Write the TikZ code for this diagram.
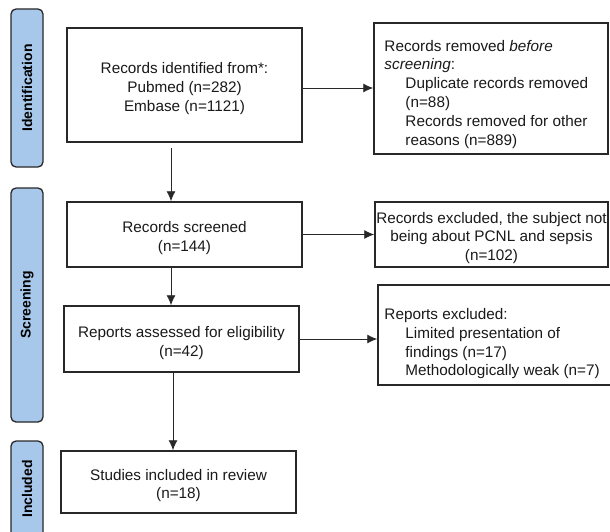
\documentclass[tikz,border=0pt]{standalone}
\usepackage{fontspec}
\setmainfont{Liberation Sans}
\usetikzlibrary{arrows.meta}
\definecolor{sidebl}{RGB}{167,199,235}
\definecolor{edgec}{RGB}{40,40,40}
\definecolor{txtc}{RGB}{25,25,25}
\begin{document}
\begin{tikzpicture}[x=1pt,y=-1pt,
  box/.style={draw=edgec,line width=1.5pt,inner sep=0pt},
  ctext/.style={anchor=center,inner sep=0pt,align=center,text=txtc,yshift=-3.5pt,
    font=\fontsize{15.3}{18.8}\selectfont},
  lefttext/.style={anchor=north west,inner sep=0pt,align=left,text=txtc,
    font=\fontsize{15.3}{18.8}\selectfont},
  side/.style={draw=edgec,line width=1.3pt,fill=sidebl,rounded corners=5pt,rotate=90,
    minimum height=32pt,inner sep=0pt,text=black,font=\fontsize{14}{16}\selectfont\bfseries},
  arr/.style={draw=edgec,line width=0.9pt,-{Latex[length=10pt,width=9pt]}}]
\useasboundingbox (0,0) rectangle (610,532);
\begin{scope}
\clip (0,0) rectangle (610,532);
% sidebars
\node[side,minimum width=158pt] (sI) at (27,88) {Identification};
\node[side,minimum width=234pt] (sS) at (27,305) {Screening};
\node[side,minimum width=96pt] (sN) at (27,489) {Included};
% main column
\node[box,minimum width=235pt,minimum height=114pt,
  label={[ctext]center:Records identified from*:\\Pubmed (n=282)\\Embase (n=1121)}]
  (B1) at (184.5,85) {};
\node[box,minimum width=235pt,minimum height=65pt,
  label={[ctext]center:Records screened\\(n=144)}] (B2) at (184.5,234.5) {};
\node[box,minimum width=235pt,minimum height=66pt,
  label={[ctext,yshift=-0.5pt]center:Reports assessed for eligibility\\(n=42)}]
  (B3) at (181.5,339) {};
\node[box,minimum width=235pt,minimum height=62pt,
  label={[ctext]center:Studies included in review\\(n=18)}] (B4) at (178.5,482) {};
% right column
\node[box,minimum width=234pt,minimum height=131pt,
  label={[lefttext,xshift=11pt,yshift=-17.5pt]north west:Records removed \textit{before}\\
  \textit{screening}:\\
  \hspace*{21pt}Duplicate records removed\\
  \hspace*{21pt}(n=88)\\
  \hspace*{21pt}Records removed for other\\
  \hspace*{21pt}reasons (n=889)}] (R1) at (491,88.5) {};
\node[box,minimum width=233pt,minimum height=65pt,
  label={[ctext]center:Records excluded, the subject not\\being about PCNL and sepsis\\(n=102)}]
  (R2) at (491.5,234.5) {};
\node[box,minimum width=262pt,minimum height=100pt,
  label={[lefttext,xshift=7pt,yshift=-24pt]north west:Reports excluded:\\
  \hspace*{21pt}Limited presentation of\\
  \hspace*{21pt}findings (n=17)\\
  \hspace*{21pt}Methodologically weak (n=7)}] (R3) at (509,335) {};
% connectors
\coordinate (a1) at (171,148);
\coordinate (a3) at (173,400);
\coordinate (h1) at (340,88);
\draw[arr] (a1) -- (a1 |- B2.north);
\draw[arr] (B2.south -| a1) -- (B3.north -| a1);
\draw[arr] (B3.south -| a3) -- (B4.north -| a3);
\draw[arr] (B1.east |- h1) -- (R1.west |- h1);
\draw[arr] (B2.east) -- (R2.west);
\draw[arr] (B3.east) -- (B3.east -| R3.west);
\end{scope}
\end{tikzpicture}
\end{document}
